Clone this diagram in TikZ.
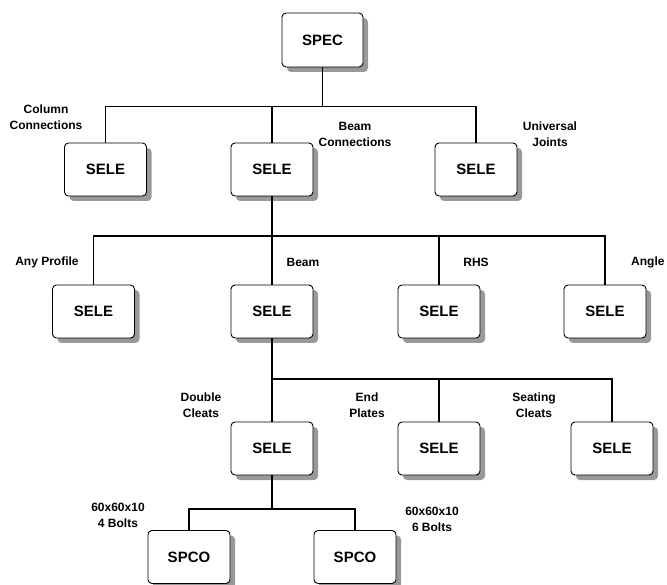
\documentclass[tikz,border=0pt]{standalone}
\usepackage{fontspec}
\setmainfont{Liberation Sans}
\usetikzlibrary{shadows}
\begin{document}
\begin{tikzpicture}[x=1pt,y=-1pt,
  box/.style={draw=black, line width=0.9pt, fill=white, rounded corners=4pt,
    minimum width=82pt, minimum height=53pt, inner sep=0pt,
    font=\fontsize{15}{17}\selectfont\bfseries,
    drop shadow={shadow xshift=5pt, shadow yshift=-5pt, fill=black!40, opacity=1}},
  lbl/.style={align=center, inner sep=0pt, font=\fontsize{12}{16}\selectfont\bfseries},
  conn/.style={line width=1.3pt, black}]
\useasboundingbox (0,0) rectangle (667,585);
% nodes
\node[box, minimum width=81pt, minimum height=54pt] (spec) at (322.5,40) {SPEC};
\node[box] (col)  at (105.5,169.5) {SELE};
\node[box] (bcon) at (272,169.5) {SELE};
\node[box] (univ) at (476,169.5) {SELE};
\node[box] (any)  at (93.5,311.5) {SELE};
\node[box] (beam) at (272,311.5) {SELE};
\node[box] (rhs)  at (439,311.5) {SELE};
\node[box] (ang)  at (605,311.5) {SELE};
\node[box] (dbl)  at (272,448.5) {SELE};
\node[box] (endp) at (439,448.5) {SELE};
\node[box] (seat) at (612,448.5) {SELE};
\node[box] (sp1)  at (189,557) {SPCO};
\node[box] (sp2)  at (355,557) {SPCO};
% bus coordinates
\coordinate (b1) at (0,106.5);
\coordinate (b2) at (0,236);
\coordinate (b3) at (0,379);
\coordinate (b4) at (0,509);
% connectors
\draw[conn] (spec.south) -- (spec.south |- b1);
\draw[conn] (col.north) |- (spec.south |- b1) -| (univ.north);
\draw[conn] (bcon.north) -- (bcon.north |- b1);
\draw[conn] (bcon.south) -- (beam.north);
\draw[conn] (any.north) |- (beam.north |- b2) -| (ang.north);
\draw[conn] (rhs.north) -- (rhs.north |- b2);
\draw[conn] (beam.south) -- (dbl.north);
\draw[conn] (dbl.north |- b3) -| (seat.north);
\draw[conn] (endp.north) -- (endp.north |- b3);
\draw[conn] (dbl.south) -- (dbl.south |- b4);
\draw[conn] (sp1.north) |- (dbl.south |- b4) -| (sp2.north);
% labels
\node[lbl] (lcol)  at (46,117.5) {Column\\Connections};
\node[lbl] (lbcon) at (355,134) {Beam\\Connections};
\node[lbl] (luniv) at (550,134) {Universal\\Joints};
\node[lbl] (lany)  at (47,262) {Any Profile};
\node[lbl] (lbeam) at (303,262) {Beam};
\node[lbl] (lrhs)  at (476,262) {RHS};
\node[lbl, anchor=west] (lang) at (631,262) {Angle};
\node[lbl] (ldbl)  at (201,405.5) {Double\\Cleats};
\node[lbl] (lend)  at (367,405.5) {End\\Plates};
\node[lbl] (lseat) at (534,405.5) {Seating\\Cleats};
\node[lbl] (l4b)   at (118,515.5) {60x60x10\\4 Bolts};
\node[lbl] (l6b)   at (432,519) {60x60x10\\6 Bolts};
\end{tikzpicture}
\end{document}
